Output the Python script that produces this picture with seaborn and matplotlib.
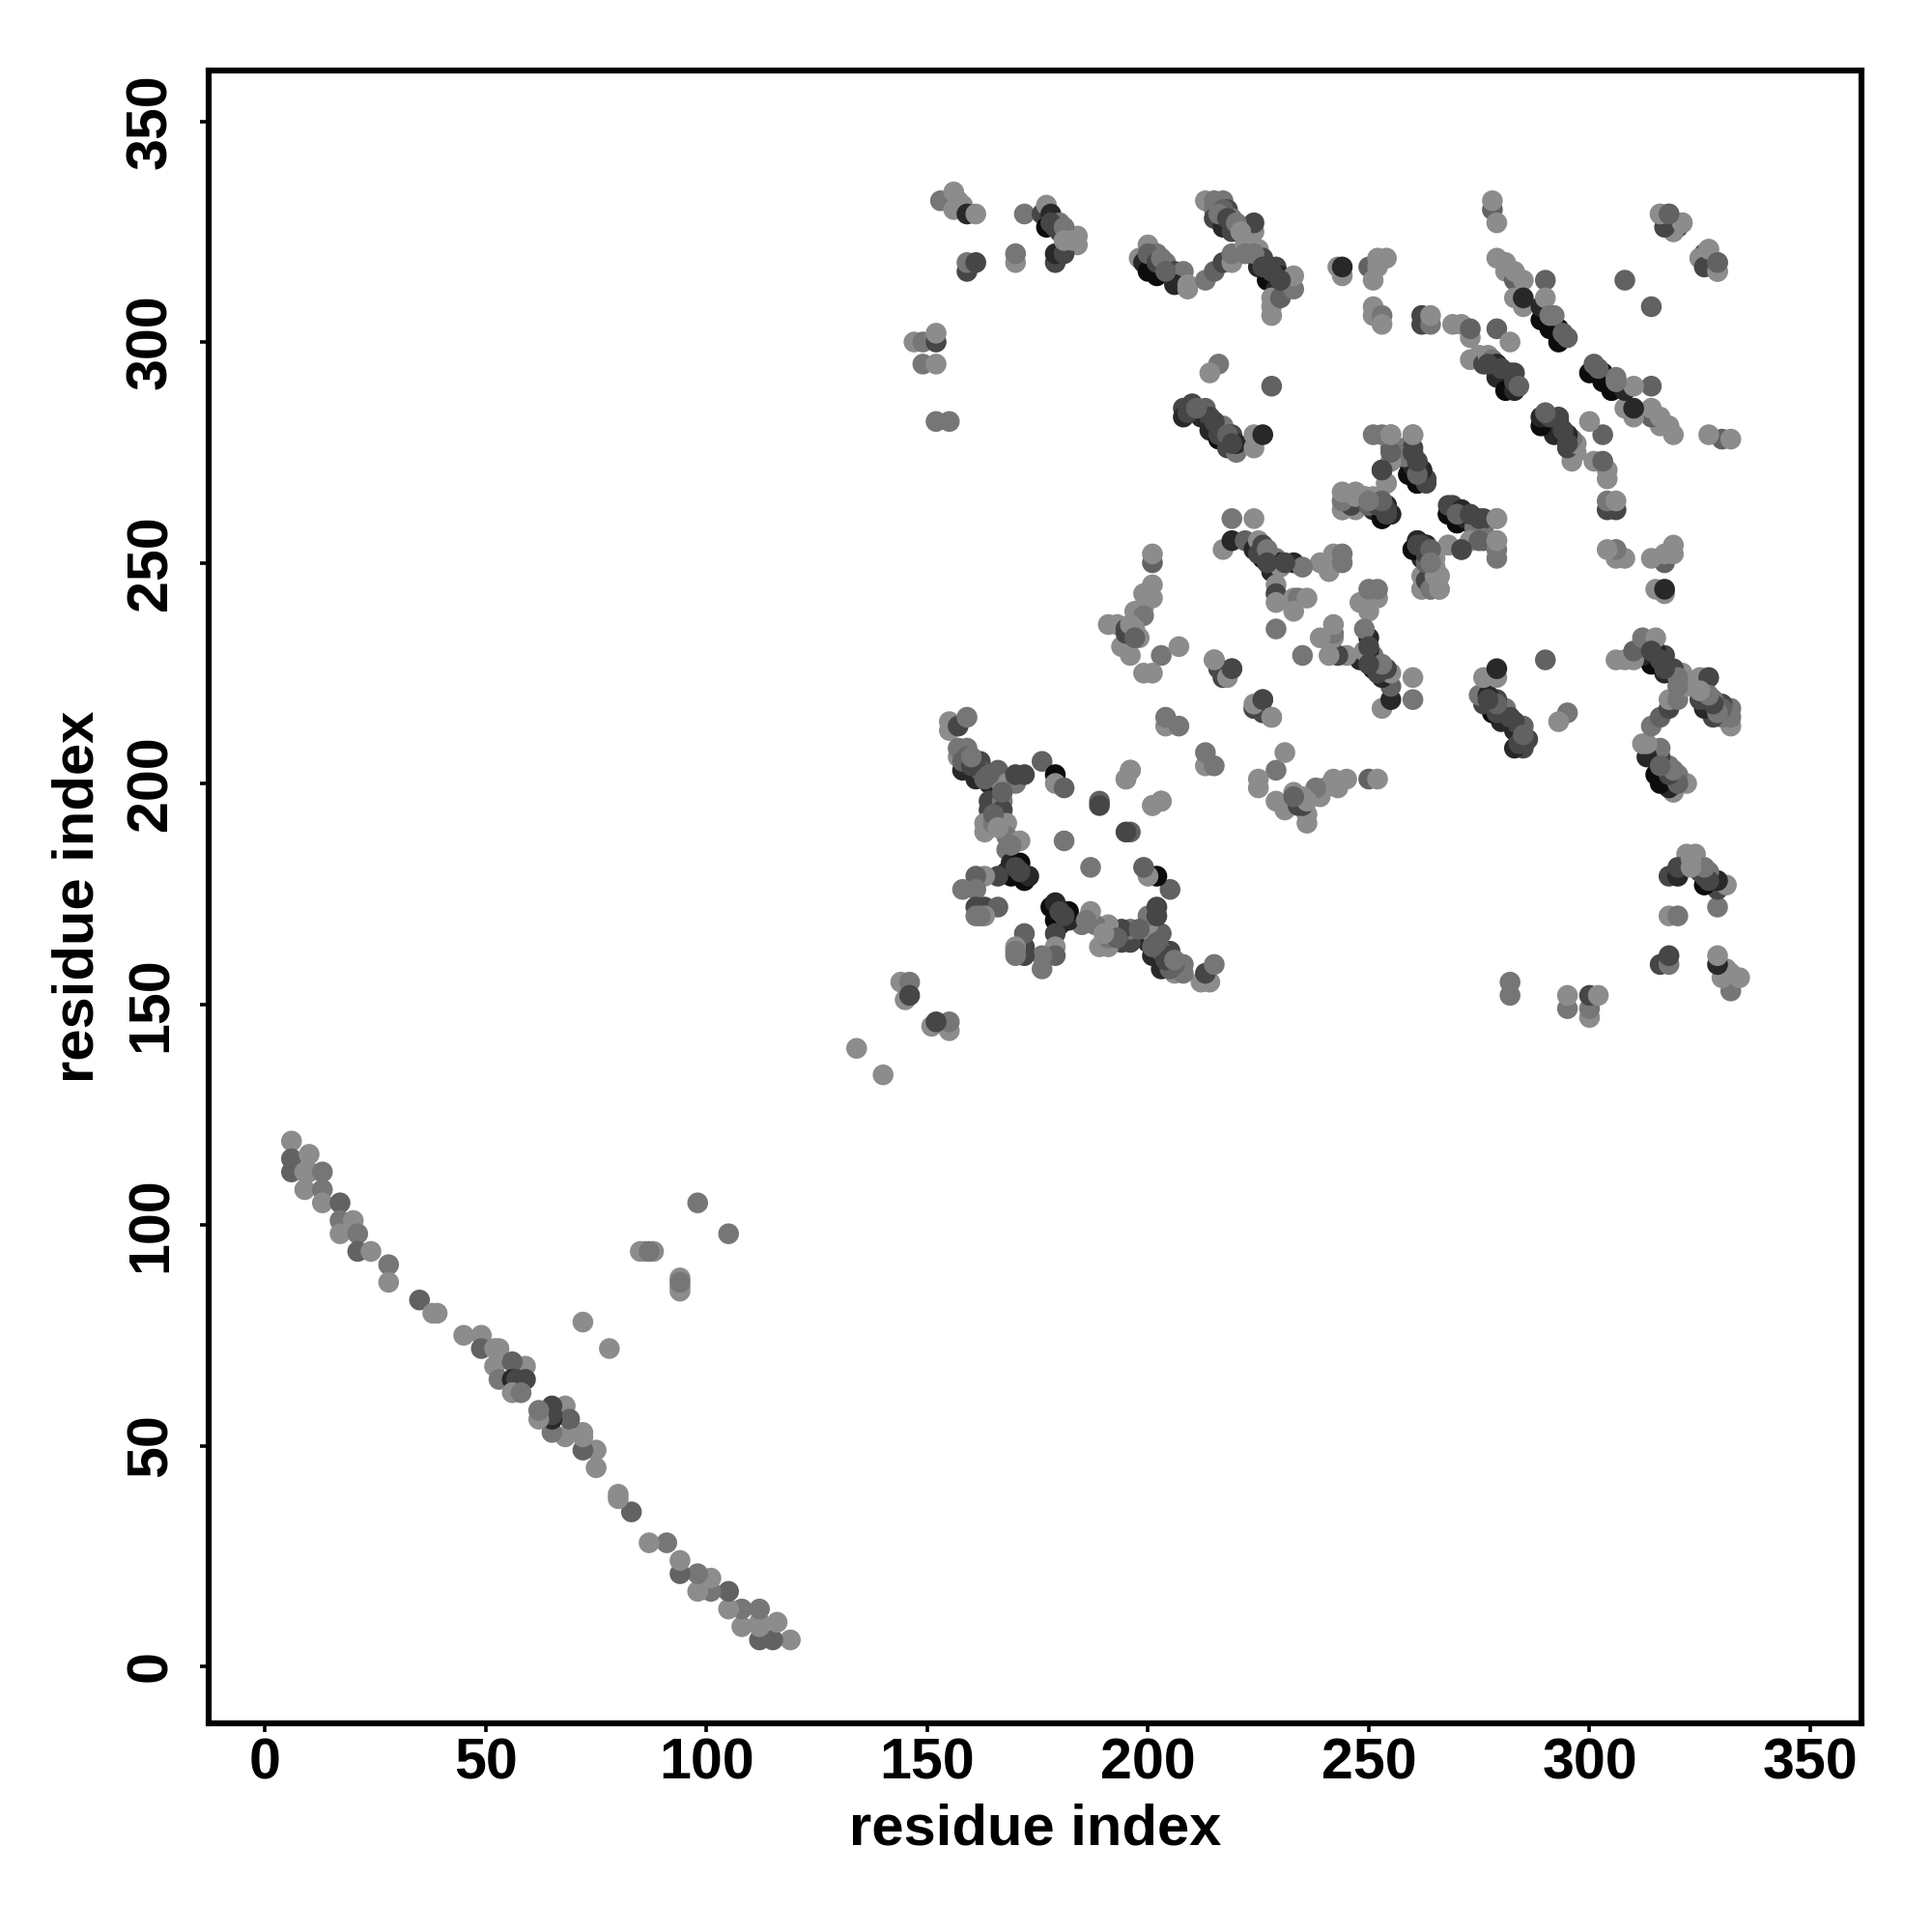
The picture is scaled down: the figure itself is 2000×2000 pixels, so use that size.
import matplotlib
matplotlib.use("Agg")
import matplotlib.pyplot as plt
import pandas as pd
import seaborn as sns

# shade levels (grey value 0-255)
L, M, N, D, K, B = 140, 118, 98, 70, 40, 12

# contacts as (residue i, residue j, shade); the map is symmetric
band = [(6,119,L),(6,115,N),(6,112,N),(10,116,L),(9,112,L),(10,112,L),(13,112,M),(9,108,L),(13,108,M),(13,105,L),
        (17,105,N),(17,101,M),(20,101,L),(17,98,L),(21,98,M),(21,94,N),(24,94,L),(28,91,M),(28,87,L),(35,83,N),
        (38,80,L),(39,80,L),(45,75,L),(49,75,L),(49,72,N),(52,72,L),(53,72,L),(52,68,L),(59,68,L),(56,69,N),
        (53,65,M),(56,65,K),(57,65,D),(59,65,D),(56,62,L),(58,62,M)]
stray = [(72,78,L),(86,94,L),(88,94,L),(85,94,L),(87,94,M),(98,105,M),(134,140,L),
         (144,155,L),(146,155,M),(145,151,L),(146,152,D)]
top_left = [(153,332,M),(156,334,L),(157,332,L),(156,330,L),(158,331,L),(159,329,K),(161,329,L),
            (159,316,D),(159,318,M),(161,318,D),(170,318,L),(170,320,M),(172,329,M),
            (176,329,D),(177,326,B),(177,331,L),(178,329,K),(180,327,M),(182,324,L),(184,324,L),(182,322,L),(184,322,L),
            (179,318,D),(179,320,K),(181,320,D),
            (147,300,L),(149,300,M),(152,300,D),(152,302,L),(149,295,M),(152,295,L),(152,282,M),(155,282,M)]
chain_low = [(198,319,L),(200,322,L),(199,318,K),(202,320,M),(200,316,B),(204,318,M),(202,315,B),(205,316,L),
             (206,316,D),(208,316,M),(206,313,K),(209,313,L),(209,312,L),(213,314,M),(215,316,N),(217,318,D),(219,318,L),(219,320,M)]
chain_top = [(213,332,L),(215,332,M),(217,332,M),(215,330,M),(215,328,D),(217,326,K),(218,330,D),(219,328,M),(219,325,D),
             (222,326,L),(224,325,L),(224,327,D),(222,322,L),(222,320,M),(225,321,L),(225,317,K),(226,319,D),(227,314,B),
             (229,317,D),(229,312,K),(230,315,K),(228,306,L),(228,308,L),(228,310,L),(230,310,N),(233,312,M),(233,315,L)]
mid_band = [(208,285,D),(208,283,K),(210,286,D),(213,285,N),(212,283,K),(214,283,D),(217,281,M),(214,280,K),(219,279,D),
            (216,278,B),(218,276,D),(220,275,M),(220,277,K),(216,295,M),(214,293,L),(228,290,N),(224,279,L),(224,276,L),(226,279,K)]
right_top = [(243,317,L),(244,315,L),(244,317,K),(250,317,N),(252,319,L),(254,319,L),(252,317,L),(251,314,L),
             (251,308,L),(251,306,L),(253,306,M),(253,304,L),(262,306,D),(262,304,D),(264,304,M),(264,306,L),
             (269,304,L),(271,304,L),(273,301,L),(273,303,N),(279,303,N),(282,300,L),
             (278,330,N),(278,332,L),(279,327,L),(279,319,L),(281,318,L),(281,316,L),(283,314,N),(283,316,L),(285,314,L),
             (283,310,L),(285,308,L),(285,310,K),(290,314,N),(289,305,B),(289,308,K),(290,310,L),(291,303,B),(293,300,B),
             (293,303,B),(292,306,M),(295,301,N),(318,329,N),(316,329,L),(318,327,K),(319,325,L),(320,326,D),(321,327,L),
             (325,319,L),(326,317,D),(327,321,L),(329,316,L),(329,318,N),(308,314,N)]
right_band = [(273,296,L),(275,297,L),(276,295,D),(277,297,L),(278,296,M),(279,292,K),(279,295,K),(281,289,B),(282,293,K),
              (283,289,K),(283,291,D)]
centre_a = [(251,279,M),(255,279,L),(260,279,L),(255,276,N),(258,276,M),(260,276,D),(253,271,D),(254,268,L),(255,273,M),
            (259,273,K),(262,271,B),(259,270,K),(261,268,B),(263,269,D)]
centre_b = [(244,262,L),(244,266,L),(244,264,M),(247,266,L),(247,263,L),(249,265,M),(251,264,D),(251,262,K),(253,260,B),
            (254,263,K),(255,261,D)]
centre_c = [(268,261,B),(268,263,D),(270,259,B),(271,262,K),(272,260,K),(274,258,M),(275,260,D),(279,260,L),(273,255,L),
            (275,255,N),(279,253,M),(279,255,L),(268,254,L),(271,253,D)]
centre_d = [(260,253,B),(261,255,K),(263,252,B),(263,254,K),(265,251,L),(262,244,L),(262,247,L),(263,246,D),(264,244,M),
            (265,247,L),(266,244,L),(266,247,L)]
centre_e = [(239,250,L),(241,248,L),(242,252,L),(244,252,M),(244,250,M)]
left_arm = [(201,250,N),(201,252,L),(201,245,L),(199,243,L),(201,242,L),(199,240,L),(197,239,L),(199,238,M),(191,236,L),
            (193,236,L),(195,235,D),(196,233,D),(197,235,L),(198,233,L),(194,231,L),(196,229,L),(203,229,M),(207,231,L),
            (199,225,L),(201,225,L),(204,213,L),(204,215,M),(207,213,M),(195,201,L),(196,203,M)]
mid_spots = [(215,228,M),(216,226,D),(217,224,L),(219,226,N),(224,217,D),(224,218,L),(226,219,D),(228,215,L),(229,235,M)]
chain_mid = [(217,253,L),(219,255,K),(219,260,M),(224,260,L),(222,255,N),(224,253,K),(225,255,L),(226,254,D),(226,251,B),
             (229,251,M),(228,248,K),(230,250,K),(233,250,K),(230,249,L),(235,249,M),
             (229,245,L),(229,243,D),(229,241,L),(233,242,L),(234,242,M),(236,242,L),(233,239,L)]
star_top = [(155,214,L),(155,212,L),(157,213,D),(159,215,M),(157,206,L),(157,208,M),(159,208,M),(158,203,K),(159,206,N),
            (161,201,K),(162,205,D),(162,203,N),(164,200,K),(166,201,L),(166,203,N),(168,200,L),(170,200,M),(170,202,D),
            (172,202,D),(176,205,N),(179,202,B),(179,200,L),(181,199,N)]
star_mid = [(164,196,D),(164,194,D),(167,196,M),(167,194,D),(163,191,L),(163,189,L),(165,191,M),(168,191,L),(168,188,M),
            (168,185,M),(171,187,L),(181,187,M),(189,196,N),(189,195,D),(196,203,L),(195,201,L)]
star_low = [(168,180,K),(169,182,K),(169,179,B),(171,182,B),(172,178,B),(173,179,K),(166,179,D),(163,179,L),(161,179,N),
            (158,176,M),(161,176,M),(161,172,D),(163,172,D),(166,172,N),(161,170,M),(163,170,L),(162,170,M)]
# paler contacts lying over the dark runs
overlay = [(200,320,N),(202,318,D),(203,319,M),(204,316,N),(217,330,N),(216,329,M),(218,328,D),(220,327,M),(221,325,L),
           (224,320,M),(226,317,D),(228,316,D),(230,314,D),(277,295,D),(280,294,D),(283,293,D),(284,290,N),
           (291,306,M),(294,302,N),(250,263,N),(252,263,D),(254,261,D),(270,261,N),(273,261,D),(262,254,D),(264,253,N),
           (265,249,L),(264,250,M),(225,252,D),(227,253,M),(227,250,D),(231,250,D),(209,284,D),(211,285,N),(215,282,D),
           (216,279,D),(218,279,N),(219,277,D),(158,205,N),(160,204,D),(161,204,D),(164,202,N),(167,198,N),(165,193,N),
           (166,190,L),(169,186,M),(170,181,D),(171,180,D),(160,206,M),(163,201,N),(195,234,D),(196,236,L),(197,233,N),
           (178,327,D),(179,326,D),(180,325,D),(181,326,M),(181,323,L),(183,323,L)]

groups = [band, stray, top_left, chain_low, chain_top, mid_band, right_top, right_band, centre_a, centre_b,
          centre_c, centre_d, centre_e, left_arm, mid_spots, chain_mid, star_top, star_mid, star_low, overlay]
x_ticks = [0, 50, 100, 150, 200, 250, 300, 350]

rows = []
for g in groups:
    for i, j, s in g:
        rows.append((i, j, s))
        rows.append((j, i, s))
df = pd.DataFrame(rows, columns=["x", "y", "shade"])
palette = {s: (s / 255,) * 3 for s in (L, M, N, D, K, B)}

sns.set_theme(style="white")
plt.rcParams["font.family"] = ["Liberation Sans", "DejaVu Sans"]
fig = plt.figure(figsize=(10, 10), dpi=200, facecolor="white")
ax = fig.add_axes([216 / 2000, 216 / 2000, 1711 / 2000, 1711 / 2000])
sns.scatterplot(data=df, x="x", y="y", hue="shade", palette=palette, s=60, linewidth=0,
                legend=False, ax=ax, zorder=3)
ax.set_xlim(-12.76, 361.6)
ax.set_ylim(-12.9, 361.5)
ax.set_xticks(x_ticks)
ax.set_yticks(x_ticks)
ax.tick_params(axis="both", length=3.3, width=1.3, color="black", bottom=True, left=True,
               labelsize=21.3, labelcolor="black")
ax.tick_params(axis="x", pad=2)
ax.tick_params(axis="y", pad=8)
for t in ax.get_xticklabels():
    t.set_fontweight("bold")
for t in ax.get_yticklabels():
    t.set_fontweight("bold")
    t.set_rotation(90)
    t.set_va("center")
for sp in ax.spines.values():
    sp.set_visible(True)
    sp.set_linewidth(2.2)
    sp.set_color("black")
ax.grid(False)
ax.set_xlabel("residue index", fontsize=21.5, fontweight="bold", color="black")
ax.set_ylabel("residue index", fontsize=21.5, fontweight="bold", color="black")
ax.xaxis.set_label_coords(0.5, -0.0485)
ax.yaxis.set_label_coords(-0.0627, 0.5)
fig.savefig("out.png", dpi=200, facecolor="white")
